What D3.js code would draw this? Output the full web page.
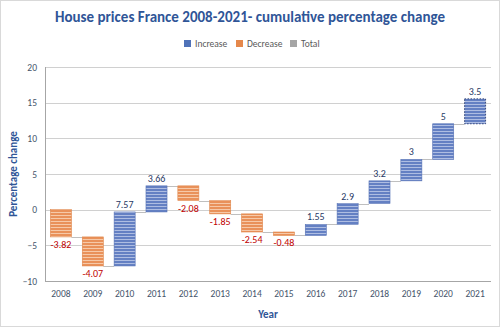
<!DOCTYPE html>
<html>
<head>
<meta charset="utf-8">
<script src="https://cdn.jsdelivr.net/npm/d3@7"></script>
<style>
  html, body { margin: 0; padding: 0; background: #fff; }
  svg { display: block; font-family: Carlito, "Open Sans", "Liberation Sans", sans-serif; }
</style>
</head>
<body>
<svg id="chart" width="500" height="327"></svg>
<script>
// Yearly change in house prices (percentage points)
const years = ["2008","2009","2010","2011","2012","2013","2014","2015","2016","2017","2018","2019","2020","2021"];
const changes = [-3.82, -4.07, 7.57, 3.66, -2.08, -1.85, -2.54, -0.48, 1.55, 2.9, 3.2, 3, 5, 3.5];
const yTicks = [-10, -5, 0, 5, 10, 15, 20];
const legendItems = ["Increase", "Decrease", "Total"];

const svg = d3.select("#chart");
const W = 500, H = 327;
const margin = { left: 45, right: 9, top: 67, bottom: 46 };

// outer border
svg.append("rect").attr("x", 0.5).attr("y", 0.5).attr("width", W - 1).attr("height", H - 1)
  .attr("fill", "#fff").attr("stroke", "#d9d9d9");

// striped fills
const defs = svg.append("defs");
function stripes(id, base, line) {
  const p = defs.append("pattern").attr("id", id).attr("patternUnits", "userSpaceOnUse")
    .attr("width", 6).attr("height", 3);
  p.append("rect").attr("width", 6).attr("height", 3).attr("fill", base);
  p.append("rect").attr("y", 2).attr("width", 6).attr("height", 1).attr("fill", line);
}
stripes("incFill", "#6480c3", "#aebde2");
stripes("decFill", "#e9915a", "#f6c9a8");

// running totals
let acc = 0;
const steps = changes.map((v, i) => {
  const start = acc; acc += v;
  return { year: years[i], value: v, start, end: acc, last: i === years.length - 1 };
});

const x = d3.scaleBand().domain(years).range([margin.left, W - margin.right]).paddingInner(0.34).paddingOuter(0.17);
const y = d3.scaleLinear().domain([-10, 20]).range([H - margin.bottom, margin.top]);

// gridlines
svg.append("g").selectAll("line").data(yTicks).join("line")
  .attr("x1", margin.left).attr("x2", W - margin.right)
  .attr("y1", d => Math.round(y(d)) + 0.5).attr("y2", d => Math.round(y(d)) + 0.5)
  .attr("stroke", d => d === -10 ? "#a6a6a6" : "#d0d0d0").attr("stroke-width", 1);
svg.append("line").attr("x1", margin.left + 0.5).attr("x2", margin.left + 0.5)
  .attr("y1", y(20)).attr("y2", y(-10)).attr("stroke", "#a6a6a6");

// y axis labels
const yAxis = d3.axisLeft(y).tickValues(yTicks).tickSize(0).tickPadding(8);
const gy = svg.append("g").attr("transform", `translate(${margin.left},0)`).call(yAxis);
gy.select(".domain").remove();
gy.selectAll("text").attr("fill", "#44546a").attr("font-size", 9.5)
  .style("font-family", "Carlito, 'Open Sans', sans-serif");

// x axis labels
const xAxis = d3.axisBottom(x).tickSize(0).tickPadding(9);
const gx = svg.append("g").attr("transform", `translate(0,${y(-10)})`).call(xAxis);
gx.select(".domain").remove();
gx.selectAll("text").attr("fill", "#44546a").attr("font-size", 9.5)
  .style("font-family", "Carlito, 'Open Sans', sans-serif");

// connectors between bars
svg.append("g").selectAll("line").data(steps.slice(0, -1)).join("line")
  .attr("x1", d => x(d.year) + x.bandwidth())
  .attr("x2", (d, i) => x(years[i + 1]))
  .attr("y1", d => Math.round(y(d.end)) + 0.5).attr("y2", d => Math.round(y(d.end)) + 0.5)
  .attr("stroke", "#bfbfbf").attr("stroke-width", 1);

// bars
svg.append("g").selectAll("rect").data(steps).join("rect")
  .attr("x", d => x(d.year))
  .attr("width", x.bandwidth())
  .attr("y", d => y(Math.max(d.start, d.end)))
  .attr("height", d => Math.abs(y(d.start) - y(d.end)))
  .attr("fill", d => d.value >= 0 ? "url(#incFill)" : "url(#decFill)")
  .attr("stroke", d => d.last ? "#2f3f73" : (d.value >= 0 ? "#5571b5" : "#e08549"))
  .attr("stroke-dasharray", d => d.last ? "1.5,1.5" : null)
  .attr("stroke-width", d => d.last ? 0.9 : 0.6);

// value labels
svg.append("g").selectAll("text").data(steps).join("text")
  .attr("x", d => x(d.year) + x.bandwidth() / 2)
  .attr("y", d => d.value >= 0 ? y(Math.max(d.start, d.end)) - 4 : y(Math.min(d.start, d.end)) + 11)
  .attr("text-anchor", "middle")
  .attr("font-size", 10)
  .attr("fill", d => d.value >= 0 ? "#1f3864" : "#c00000")
  .text(d => d.value);

// title
svg.append("text").attr("x", 250).attr("y", 22).attr("text-anchor", "middle")
  .attr("font-size", 15).attr("font-weight", "bold").attr("fill", "#2f5597")
  .text("House prices France 2008-2021- cumulative percentage change");

// legend
const legendColors = ["#4f72b8", "#e5884b", "#a5a5a5"];
const legendX = [184, 236, 290];
const lg = svg.append("g");
legendItems.forEach((t, i) => {
  lg.append("rect").attr("x", legendX[i]).attr("y", 40).attr("width", 7).attr("height", 7).attr("fill", legendColors[i]);
  lg.append("text").attr("x", legendX[i] + 11).attr("y", 47).attr("font-size", 9.5).attr("fill", "#595959").text(t);
});

// axis titles
svg.append("text").attr("x", 268).attr("y", 318).attr("text-anchor", "middle")
  .attr("font-size", 11).attr("font-weight", "bold").attr("fill", "#2f5597").text("Year");
svg.append("text").attr("transform", `translate(17,${(y(20) + y(-10)) / 2}) rotate(-90)`)
  .attr("text-anchor", "middle").attr("font-size", 11).attr("font-weight", "bold")
  .attr("fill", "#2f5597").text("Percentage change");
</script>
</body>
</html>
